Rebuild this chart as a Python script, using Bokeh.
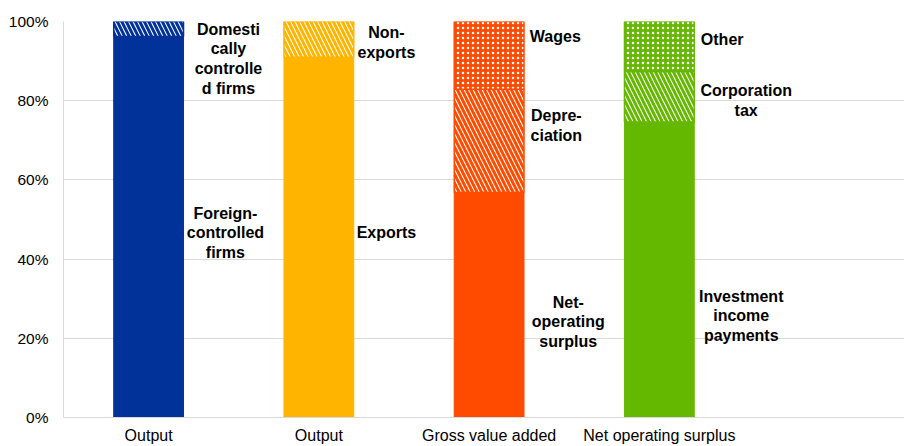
from bokeh.plotting import figure
from bokeh.models import FixedTicker, Range1d, ColumnDataSource, PrintfTickFormatter
from bokeh.embed import file_html
from bokeh.resources import INLINE
from bokeh.core.properties import value

# ---- data ----
categories = ["Output", "Output", "Gross value added", "Net operating surplus"]
solid_share = [96.2, 91.0, 56.8, 74.6]     # Foreign-controlled / Exports / Net operating surplus / Investment income payments
striped_share = [3.8, 9.0, 26.1, 12.8]     # Domestically controlled / Non-exports / Depreciation / Corporation tax
dotted_share = [0.0, 0.0, 17.1, 12.6]      # - / - / Wages / Other
bar_colors = ["#003299", "#FFB400", "#FF4B00", "#65B800"]
y_ticks = [0, 20, 40, 60, 80, 100]

label_texts = ["Domesti\ncally\ncontrolle\nd firms", "Foreign-\ncontrolled\nfirms",
               "Non-\nexports", "Exports",
               "Wages", "Depre-\nciation", "Net-\noperating\nsurplus",
               "Other", "Corporation\ntax", "Investment\nincome\npayments"]
label_x = [0.969, 0.951, 1.897, 1.897, 2.889, 2.895, 2.965, 3.869, 4.01, 3.981]
label_y = [90.6, 46.6, 94.7, 46.6, 96.3, 73.8, 24.2, 95.5, 80.1, 25.7]

xs = [i + 0.5 for i in range(len(categories))]
bar_w = 0.41

p = figure(width=904, height=446, x_range=Range1d(0, 4.94), y_range=Range1d(0, 100),
           output_backend="svg", toolbar_location=None,
           min_border_left=63, min_border_right=0, min_border_top=21, min_border_bottom=28)
p.outline_line_color = None

solid_src = ColumnDataSource(dict(x=xs, top=solid_share, color=bar_colors))
p.vbar(x="x", width=bar_w, bottom=0, top="top", source=solid_src,
       fill_color="color", line_color="color", line_width=1)

s_bottom = solid_share
s_top = [a + b for a, b in zip(solid_share, striped_share)]
striped_src = ColumnDataSource(dict(x=xs, bottom=s_bottom, top=s_top, color=bar_colors))
p.vbar(x="x", width=bar_w, bottom="bottom", top="top", source=striped_src,
       fill_color="white", line_color="color", line_width=1.5,
       hatch_pattern="\\", hatch_color="color", hatch_scale=9, hatch_weight=3)

idx = [i for i, d in enumerate(dotted_share) if d > 0]
dotted_src = ColumnDataSource(dict(
    x=[xs[i] for i in idx],
    bottom=[s_top[i] for i in idx],
    top=[s_top[i] + dotted_share[i] for i in idx],
    color=[bar_colors[i] for i in idx]))
p.vbar(x="x", width=bar_w, bottom="bottom", top="top", source=dotted_src,
       fill_color="color", line_color="color", line_width=1.5,
       hatch_pattern=".", hatch_color="white", hatch_scale=5, hatch_weight=1)

p.text(x=label_x, y=label_y, text=label_texts, text_align="center", text_baseline="middle",
       text_font=value("Liberation Sans"), text_font_style="bold", text_font_size="16px",
       text_line_height=1.15, text_color="#000000")

# axes
p.xaxis.ticker = FixedTicker(ticks=xs)
p.xaxis.major_label_overrides = {x: c for x, c in zip(xs, categories)}
p.xaxis.major_tick_line_color = None
p.xaxis.major_tick_out = 0
p.xaxis.major_tick_in = 0
p.xaxis.minor_tick_line_color = None
p.xaxis.axis_line_color = "#d9d9d9"
p.xaxis.major_label_standoff = 9
p.xaxis.major_label_text_font = "Liberation Sans"
p.xaxis.major_label_text_font_size = "16px"
p.xaxis.major_label_text_color = "#000000"

p.yaxis.ticker = FixedTicker(ticks=y_ticks)
p.yaxis.formatter = PrintfTickFormatter(format="%d%%")
p.yaxis.major_tick_line_color = None
p.yaxis.major_tick_out = 0
p.yaxis.major_tick_in = 0
p.yaxis.minor_tick_line_color = None
p.yaxis.axis_line_color = "#d9d9d9"
p.yaxis.major_label_standoff = 15
p.yaxis.major_label_text_font = "Liberation Sans"
p.yaxis.major_label_text_font_size = "15.5px"
p.yaxis.major_label_text_color = "#000000"

p.xgrid.visible = False
p.ygrid.grid_line_color = "#d9d9d9"
p.ygrid.grid_line_width = 1

open("out.html", "w").write(file_html(p, INLINE))
